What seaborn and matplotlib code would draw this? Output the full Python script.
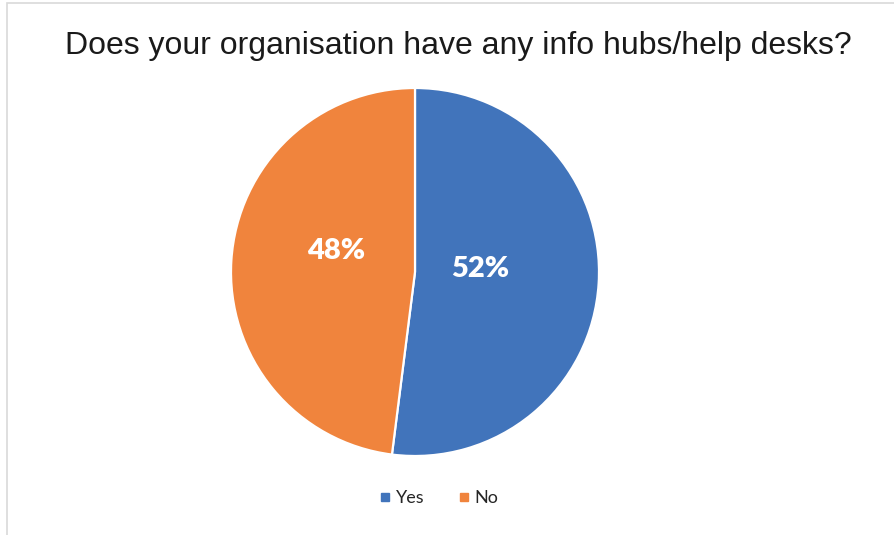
import matplotlib
matplotlib.use("Agg")
import matplotlib.pyplot as plt
from matplotlib.lines import Line2D
from matplotlib.patches import Rectangle
import seaborn as sns

# Survey answers
categories = ["Yes", "No"]
shares = [52, 48]
colors = ["#4174BB", "#F0843D"]
title = "Does your organisation have any info hubs/help desks?"

sns.set_theme(style="white")
palette = sns.color_palette(colors)

W, H = 894, 535
fig = plt.figure(figsize=(W / 100, H / 100), dpi=100)
fig.patch.set_facecolor("white")

# Chart frame (only top and left edges fall inside the image)
fig.patches.append(Rectangle((7 / W, -0.2), 1.2, 1.2 - 3 / H,
                             transform=fig.transFigure, fill=False,
                             edgecolor="#D9D9D9", linewidth=1.2))

cx, cy, r = 415, 272, 184
ax = fig.add_axes([(cx - r) / W, (H - cy - r) / H, 2 * r / W, 2 * r / H])
wedges, texts, autotexts = ax.pie(
    shares, colors=palette, startangle=90, counterclock=False,
    autopct="%d%%", pctdistance=0.4, radius=1.0,
    wedgeprops=dict(edgecolor="white", linewidth=1.6),
    textprops=dict(color="white", fontsize=21, fontweight="heavy",
                   family="Lato"),
)
ax.set_xlim(-1.0, 1.0)
ax.set_ylim(-1.0, 1.0)
ax.set_aspect("equal")
ax.axis("off")

# Label placement in units of the radius
label_pos = [(0.355, 0.016), (-0.43, 0.115)]
for t, (x, y) in zip(autotexts, label_pos):
    t.set_position((x, y))
    t.set_ha("center")
    t.set_va("center")

fig.text(458 / W, 1 - 54 / H, title, ha="center", va="baseline",
         fontsize=23, family="Liberation Sans", color="#1A1A1A")

handles = [Line2D([], [], marker="s", linestyle="none", markersize=6,
                  markerfacecolor=c, markeredgecolor=c) for c in palette]
fig.legend(handles, categories, loc="center", bbox_to_anchor=(438 / W, 1 - 498 / H),
           ncol=2, frameon=False, handletextpad=0.2, columnspacing=1.8,
           handlelength=0.8, prop=dict(family="Lato", size=13))

fig.savefig("out.png", dpi=100, facecolor="white")
